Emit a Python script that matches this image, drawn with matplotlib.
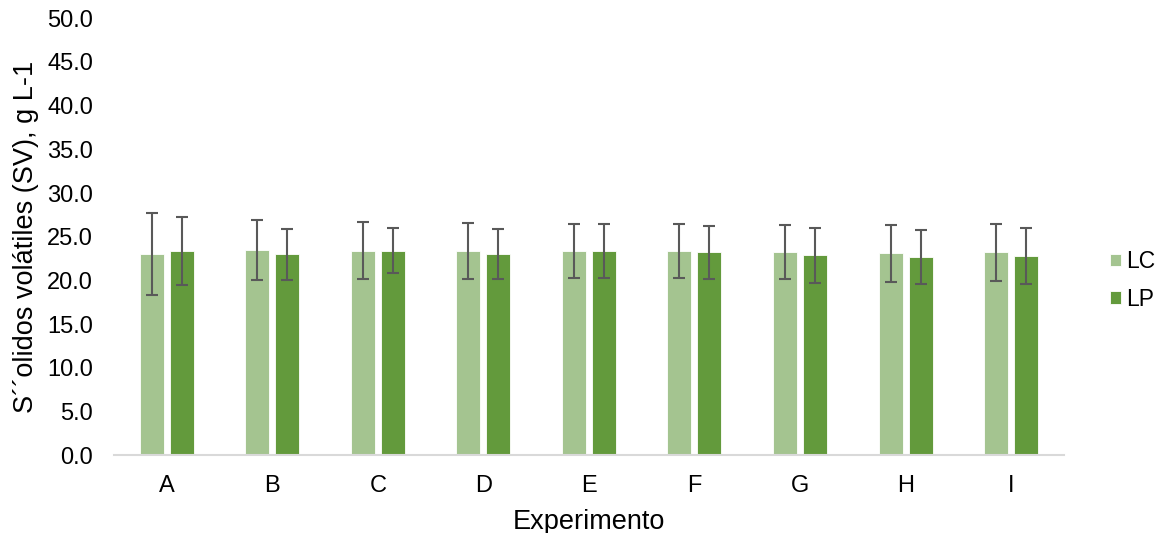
import matplotlib.pyplot as plt
import numpy as np

plt.rcParams['font.family'] = ['Liberation Sans', 'DejaVu Sans']

categories = ["A", "B", "C", "D", "E", "F", "G", "H", "I"]
lc_values = [23.0, 23.5, 23.4, 23.4, 23.4, 23.4, 23.3, 23.1, 23.2]
lc_errors = [4.7, 3.4, 3.25, 3.2, 3.1, 3.1, 3.1, 3.3, 3.3]
lp_values = [23.4, 23.0, 23.4, 23.0, 23.4, 23.2, 22.9, 22.7, 22.8]
lp_errors = [3.9, 2.9, 2.6, 2.85, 3.1, 3.0, 3.15, 3.1, 3.15]

LC_COLOR = "#A4C490"
LP_COLOR = "#639A3C"
ERR_COLOR = "#595959"

fig = plt.figure(figsize=(11.57, 5.33), dpi=100)
ax = fig.add_axes([0.0985, 0.1458, 0.821, 0.82])

x = np.arange(len(categories))
width = 0.227
offset = 0.142
err_kw = dict(ecolor=ERR_COLOR, elinewidth=1.5, capsize=4.3, capthick=1.5)

ax.bar(x - offset, lc_values, width, yerr=lc_errors, color=LC_COLOR,
       edgecolor="white", linewidth=0.6, label="LC", error_kw=err_kw)
ax.bar(x + offset, lp_values, width, yerr=lp_errors, color=LP_COLOR,
       edgecolor="white", linewidth=0.6, label="LP", error_kw=err_kw)

ax.set_xlim(-0.5, len(categories) - 0.5)
ax.set_ylim(0, 50)
ax.set_yticks(np.arange(0, 50.1, 5))
ax.set_yticklabels([f"{v:.1f}" for v in np.arange(0, 50.1, 5)])
ax.set_xticks(x)
ax.set_xticklabels(categories)

for side in ["top", "right", "left"]:
    ax.spines[side].set_visible(False)
ax.spines["bottom"].set_color("#D9D9D9")
ax.spines["bottom"].set_linewidth(1.5)
ax.tick_params(axis="both", length=0, labelsize=17, colors="black")
ax.tick_params(axis="y", pad=15)
ax.tick_params(axis="x", pad=14)

ax.set_xlabel("Experimento", fontsize=19.5, labelpad=9)
ax.set_ylabel("S\u00b4\u00b4olidos volátiles (SV), g L-1", fontsize=19.5, labelpad=6)

fig.legend(loc="center left", bbox_to_anchor=(0.9594, 0.4737), frameon=False,
           fontsize=16.5, handlelength=0.48, handleheight=0.48, handletextpad=0.22,
           labelspacing=0.64, borderpad=0, borderaxespad=0)

fig.savefig("out.png", dpi=100)
